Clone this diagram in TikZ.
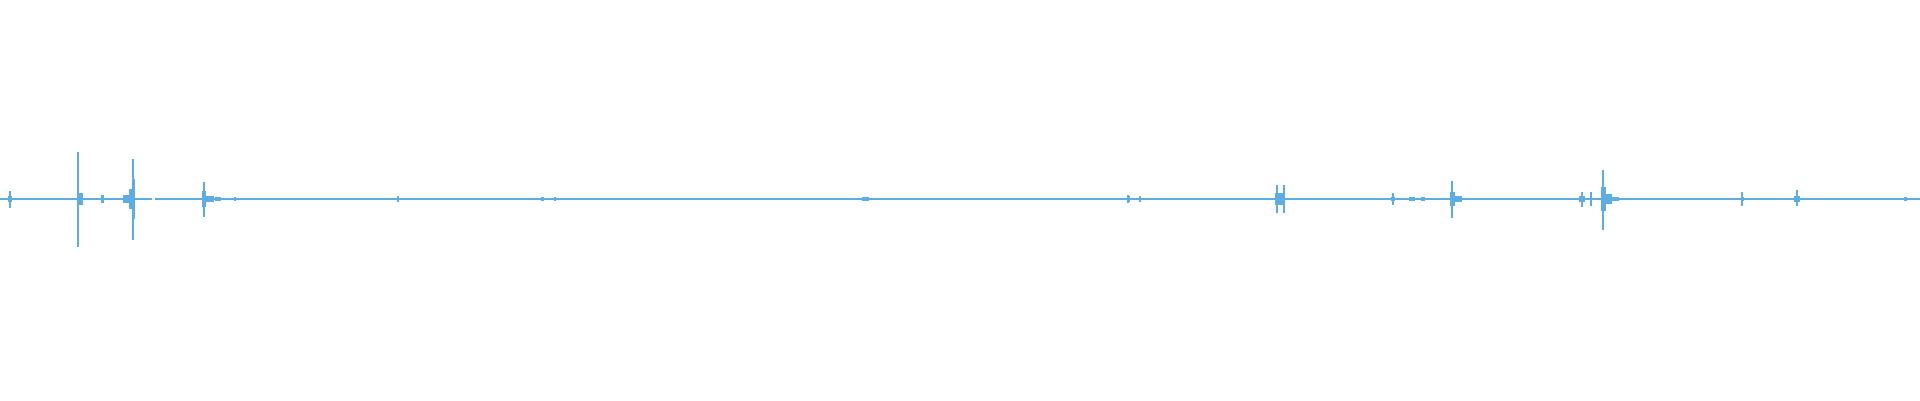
\documentclass[tikz,border=0pt]{standalone}
\usetikzlibrary{positioning}
\definecolor{welle}{HTML}{5DADE2}

\begin{document}
\begin{tikzpicture}[x=1pt,y=-1pt,
    /spitze/.code n args={3}{
      \draw [welle, line width=1.2pt] (#1,199-#2) -- (#1,199+#3);
      },
    /buendel/.code n args={3}{
      \fill [welle] (#1-#3,199-#2) rectangle (#1+#3,199+#2);
      }
    ]

  \useasboundingbox (0,0) rectangle (1920,400);

  % grundlinie
  \draw [welle, line width=1.3pt] (0,199) -- (152,199);
  \draw [welle, line width=1.3pt] (155,199) -- (1920,199);

  % grosse ausschlaege
  \foreach \x/\o/\u in {10/8/9, 78/47/48, 133/40/41, 204/17/18,
                        1277/14/14, 1284/14/14, 1452/18/19,
                        1582/7/8, 1591/7/7, 1603/29/31,
                        1742/7/7, 1797/9/7, 1128/4/4, 1140/3/3,
                        1393/6/6, 398/3/3}
    \tikzset{/spitze={\x}{\o}{\u}};

  % dichte bereiche
  \foreach \x/\h/\b in {10/3/2, 78/28/1, 80/6/3, 102/4/1.5, 133/20/1.5, 131/10/2,
                        126/4/3, 204/8/2, 210/3/4, 218/2/3, 235/2/1,
                        1128/3/1.5, 1280/6/5, 1452/7/2.5, 1458/3/4, 1393/2/2,
                        1412/2/3, 1423/2/2, 1603/12/2.5, 1608/5/4, 1615/2/4,
                        1582/3/3, 1797/3/3, 1742/2/1.5, 1905/2/1.5, 866/2/3,
                        542/2/1.5, 555/2/1, 728/1/3, 835/1/2, 865/2/3, 880/1/3}
    \tikzset{/buendel={\x}{\h}{\b}};

\end{tikzpicture}
\end{document}
